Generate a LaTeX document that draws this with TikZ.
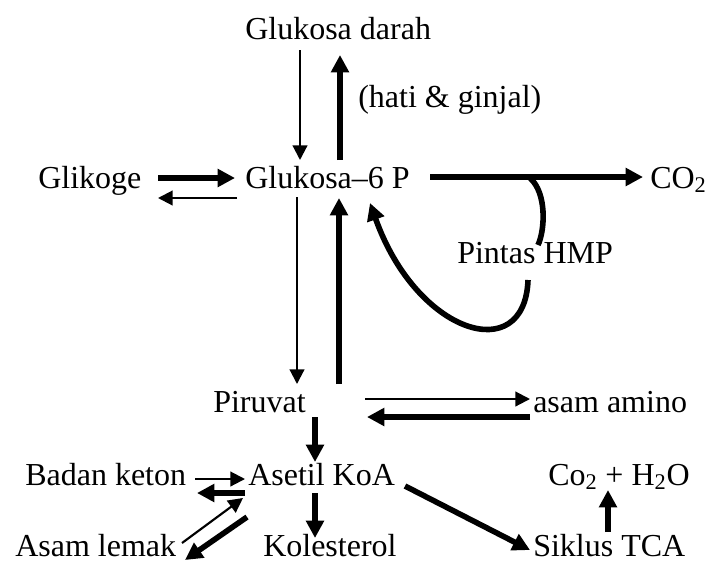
\documentclass[tikz,border=0pt]{standalone}
\usepackage{fontspec}
\setmainfont{Liberation Serif}
\usepackage{tikz}
\usetikzlibrary{arrows.meta,calc}

\begin{document}
\begin{tikzpicture}[
    x=0.75pt, y=-0.75pt,
    every node/.style={anchor=base west, inner sep=0pt, text depth=0pt, font=\fontsize{24}{28}\selectfont},
    thinarrow/.style={-{Triangle[length=11pt,width=11pt]}, line width=1.6pt},
    thickarrow/.style={-{Triangle[length=13pt,width=13pt]}, line width=4.2pt},
    thickline/.style={line width=4.2pt}
]
\useasboundingbox (0,0) rectangle (709,561);

% Metabolites
\node (darah) at (245,39) {Glukosa darah};
\node (hati) at (358,107) {(hati \& ginjal)};
\node (glik) at (38,188) {Glikoge};
\node (g6p) at (245,188) {Glukosa--6 P};
\node (co2) at (650,188) {CO\textsubscript{2}};
\node (hmp) at (457,263) {Pintas HMP};
\node (piruvat) at (213,412) {Piruvat};
\node (amino) at (533,412) {asam amino};
\node (keton) at (25,485) {Badan keton};
\node (asetil) at (248,485) {Asetil KoA};
\node (co2h2o) at (548,485) {Co\textsubscript{2} + H\textsubscript{2}O};
\node (lemak) at (15,556) {Asam lemak};
\node (koles) at (263,556) {Kolesterol};
\node (tca) at (533,556) {Siklus TCA};

% Glukosa darah <-> Glukosa-6 P
\draw[thinarrow] ($(darah.base west)+(55,11)$) -- ($(g6p.base west)+(55,-28)$);
\draw[thickarrow] ($(g6p.base west)+(95,-28)$) -- ($(darah.base west)+(95,16)$);

% Glikogen <-> Glukosa-6 P
\draw[thickarrow] ($(glik.base west)+(120,-10)$) -- ($(g6p.base west)+(-10,-10)$);
\draw[thinarrow] ($(g6p.base west)+(-8,10)$) -- ($(glik.base west)+(120,10)$);

% Glukosa-6 P -> CO2 and HMP shunt
\draw[thickarrow] ($(g6p.base west)+(185,-11)$) -- ($(co2.base west)+(-7,-11)$);
\draw[thickline] ($(g6p.base west)+(285,-10)$) .. controls ($(g6p.base west)+(302,5)$) and ($(g6p.base west)+(300,42)$) .. ($(hmp.base west)+(81,-18)$);
\draw[thickarrow] ($(hmp.base west)+(71,17)$) .. controls ($(hmp.base west)+(68,104)$) and ($(hmp.base west)+(-40,72)$) .. ($(g6p.base west)+(125,15)$);

% Glukosa-6 P <-> Piruvat
\draw[thinarrow] ($(g6p.base west)+(52,9)$) -- ($(piruvat.base west)+(84,-28)$);
\draw[thickarrow] ($(piruvat.base west)+(126,-28)$) -- ($(g6p.base west)+(94,10)$);

% Piruvat <-> asam amino
\draw[thinarrow] ($(piruvat.base west)+(152,-13)$) -- ($(amino.base west)+(-3,-13)$);
\draw[thickarrow] ($(amino.base west)+(-3,5)$) -- ($(piruvat.base west)+(154,5)$);

% Asetil KoA
\draw[thickarrow] ($(piruvat.base west)+(102,5)$) -- ($(asetil.base west)+(67,-23)$);
\draw[thickarrow] ($(asetil.base west)+(67,8)$) -- ($(koles.base west)+(52,-18)$);
\draw[thinarrow] ($(keton.base west)+(170,-6)$) -- ($(asetil.base west)+(-3,-6)$);
\draw[thickarrow] ($(asetil.base west)+(-3,8)$) -- ($(keton.base west)+(172,8)$);
\draw[thinarrow] ($(lemak.base west)+(167,-13)$) -- ($(asetil.base west)+(-5,13)$);
\draw[thickarrow] ($(asetil.base west)+(-1,32)$) -- ($(lemak.base west)+(170,4)$);
\draw[thickarrow] ($(asetil.base west)+(157,1)$) -- ($(tca.base west)+(-3,-6)$);
\draw[thickarrow] ($(tca.base west)+(75,-24)$) -- ($(co2h2o.base west)+(60,5)$);

\end{tikzpicture}
\end{document}
